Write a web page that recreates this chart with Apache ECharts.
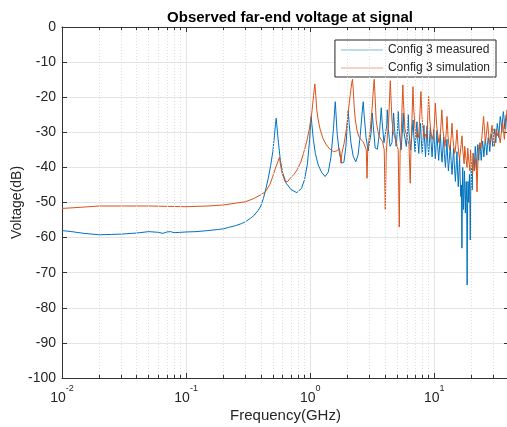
<!DOCTYPE html>
<html>
<head>
<meta charset="utf-8">
<script src="https://cdn.jsdelivr.net/npm/echarts@6/dist/echarts.min.js"></script>
<style>
html,body{margin:0;padding:0;background:#fff;}
#chart{width:507px;height:427px;}
</style>
</head>
<body>
<div id="chart"></div>
<script>
// ---- Data: [frequency GHz, voltage dB] ----
const seriesNames = ['Config 3 measured', 'Config 3 simulation'];

const measured = [
  [0.010,-58.0],[0.012,-58.3],[0.015,-58.8],[0.020,-59.2],[0.025,-59.1],[0.030,-59.0],
  [0.040,-58.7],[0.050,-58.3],[0.060,-58.5],[0.065,-58.8],[0.070,-58.4],[0.075,-58.3],
  [0.080,-58.6],[0.090,-58.5],[0.100,-58.4],[0.120,-58.3],[0.150,-58.0],[0.180,-57.7],
  [0.200,-57.5],[0.220,-57.1],[0.250,-56.6],[0.280,-56.0],[0.300,-55.5],[0.330,-54.5],
  [0.350,-53.8],[0.380,-52.3],[0.400,-51.0],[0.420,-48.8],[0.440,-46.0],[0.460,-43.0],
  [0.480,-39.5],[0.500,-35.5],[0.515,-31.0],[0.525,-27.8],[0.532,-26.0],[0.540,-28.5],
  [0.555,-33.0],[0.575,-38.0],[0.600,-41.5],[0.640,-44.5],[0.700,-46.3],[0.780,-47.2],
  [0.850,-46.0],[0.900,-43.5],[0.950,-39.0],[0.990,-32.0],[1.010,-27.0],[1.019,-25.5],
  [1.030,-27.5],[1.060,-32.0],[1.100,-36.0],[1.160,-39.3],[1.240,-41.5],[1.320,-42.6],
  [1.400,-41.3],[1.470,-37.0],[1.540,-29.0],[1.575,-23.5],[1.592,-21.3],[1.610,-24.0],
  [1.650,-30.5],[1.720,-36.0],[1.800,-38.8],[1.870,-38.5],[1.940,-34.0],[1.990,-28.0],
  [2.024,-23.8],[2.060,-27.5],[2.130,-33.0],[2.220,-36.8],[2.330,-38.4],[2.430,-36.5],
  [2.530,-31.0],[2.620,-24.5],[2.675,-21.3],[2.720,-25.0],[2.820,-31.5],[2.930,-35.3],
  [3.020,-35.5],[3.100,-30.0],[3.162,-24.5],[3.220,-28.0],[3.340,-34.5],[3.480,-34.8],
  [3.620,-30.0],[3.738,-23.0],[3.800,-27.0],[3.930,-33.0],[4.060,-33.5],[4.140,-28.0],
  [4.180,-23.6],[4.260,-29.0],[4.400,-34.0],[4.560,-33.0],[4.660,-27.0],[4.700,-24.5],
  [4.780,-29.0],[4.930,-34.0],[5.060,-29.0],[5.124,-24.1],[5.200,-29.0],[5.400,-35.0],
  [5.550,-29.0],[5.623,-24.5],[5.700,-30.0],[5.950,-34.0],[6.100,-29.5],[6.171,-25.0],
  [6.250,-30.0],[6.450,-35.0],[6.680,-28.5],[6.750,-26.5],[6.840,-31.0],[7.000,-35.5],
  [7.180,-28.5],[7.250,-27.0],[7.340,-31.5],[7.500,-36.0],[7.680,-29.0],[7.750,-27.4],
  [7.850,-32.0],[8.000,-36.0],[8.180,-30.0],[8.250,-28.0],[8.360,-32.5],[8.500,-37.0],
  [8.680,-30.0],[8.750,-28.2],[8.860,-33.0],[9.000,-36.5],[9.220,-30.5],[9.300,-28.5],
  [9.420,-33.0],[9.600,-37.0],[9.820,-31.0],[9.900,-29.3],[10.03,-33.5],[10.20,-37.5],
  [10.42,-31.5],[10.50,-29.5],[10.65,-34.0],[10.85,-38.0],[11.10,-32.5],[11.20,-30.5],
  [11.35,-35.0],[11.55,-38.5],[11.80,-33.0],[11.90,-31.3],[12.05,-36.0],[12.30,-40.0],
  [12.55,-34.0],[12.65,-32.0],[12.80,-37.0],[13.00,-41.0],[13.35,-35.5],[13.46,-33.5],
  [13.65,-38.0],[13.90,-42.0],[14.20,-36.5],[14.31,-34.5],[14.50,-39.0],[14.80,-44.0],
  [15.10,-38.0],[15.24,-35.5],[15.40,-41.0],[15.60,-45.5],[15.85,-40.0],[16.00,-37.0],
  [16.15,-43.0],[16.35,-48.3],[16.55,-45.0],[16.70,-63.0],[16.85,-46.0],[16.95,-40.0],
  [17.05,-45.0],[17.20,-52.0],[17.35,-46.0],[17.50,-41.0],[17.65,-47.0],[17.80,-53.0],
  [17.95,-47.0],[18.10,-44.0],[18.25,-50.0],[18.40,-73.5],[18.55,-50.0],[18.70,-44.0],
  [18.85,-47.0],[18.95,-50.0],[19.05,-46.0],[19.20,-42.0],[19.35,-49.0],[19.50,-60.7],
  [19.65,-48.0],[19.85,-40.0],[20.00,-43.0],[20.20,-46.4],[20.40,-40.0],[20.60,-36.0],
  [20.80,-38.0],[21.00,-41.0],[21.20,-37.0],[21.40,-34.0],[21.65,-37.5],[21.90,-40.7],
  [22.15,-36.0],[22.40,-33.5],[22.60,-35.5],[22.80,-38.0],[23.05,-35.0],[23.30,-33.0],
  [23.60,-35.5],[23.90,-38.0],[24.20,-35.0],[24.50,-32.5],[24.80,-34.5],[25.10,-37.0],
  [25.45,-34.0],[25.80,-32.0],[26.15,-34.0],[26.50,-36.5],[26.85,-33.5],[27.20,-31.5],
  [27.60,-33.0],[28.00,-35.5],[28.40,-32.5],[28.80,-30.5],[29.20,-32.0],[29.60,-34.0],
  [30.00,-31.0],[30.40,-29.0],[30.85,-31.0],[31.30,-33.0],[31.75,-30.0],[32.20,-27.5],
  [32.65,-29.0],[33.10,-31.5],[33.55,-28.0],[34.00,-25.5],[34.50,-27.0],[35.00,-30.0],
  [35.50,-26.5],[36.00,-24.1],[36.50,-26.0],[37.00,-29.0],[37.50,-26.5],[38.00,-25.0],
  [38.50,-27.0],[39.00,-30.5],[39.50,-28.0],[40.00,-27.0]
];

const simulated = [
  [0.010,-51.7],[0.015,-51.3],[0.020,-51.0],[0.030,-51.0],[0.050,-51.0],[0.070,-51.1],
  [0.100,-51.2],[0.150,-51.0],[0.200,-50.7],[0.250,-50.2],[0.300,-49.8],[0.350,-48.9],
  [0.395,-47.9],[0.434,-47.0],[0.475,-44.8],[0.500,-42.5],[0.525,-40.2],[0.550,-38.3],
  [0.565,-37.1],[0.575,-39.0],[0.594,-41.7],[0.628,-44.1],[0.660,-44.0],[0.690,-43.1],
  [0.740,-42.0],[0.785,-40.7],[0.840,-38.5],[0.883,-36.0],[0.940,-32.5],[0.982,-29.3],
  [1.030,-24.5],[1.065,-19.5],[1.090,-16.2],[1.110,-19.5],[1.130,-23.6],[1.160,-26.5],
  [1.205,-29.3],[1.270,-31.8],[1.350,-33.6],[1.440,-34.8],[1.540,-35.5],[1.640,-35.3],
  [1.720,-34.6],[1.745,-36.0],[1.770,-38.8],[1.800,-36.0],[1.880,-33.0],[1.960,-29.0],
  [2.020,-24.6],[2.100,-19.5],[2.160,-16.0],[2.190,-14.9],[2.220,-17.5],[2.260,-22.5],
  [2.310,-26.5],[2.380,-29.3],[2.460,-31.2],[2.560,-32.0],[2.670,-32.7],[2.780,-34.2],
  [2.830,-35.0],[2.870,-43.1],[2.910,-35.0],[2.980,-32.0],[3.050,-29.3],[3.150,-23.5],
  [3.240,-17.0],[3.280,-14.9],[3.320,-18.5],[3.400,-26.5],[3.500,-29.5],[3.600,-31.2],
  [3.720,-32.0],[3.830,-32.7],[3.950,-35.0],[4.030,-52.0],[4.100,-36.0],[4.190,-31.0],
  [4.270,-28.0],[4.360,-20.5],[4.420,-15.3],[4.470,-19.5],[4.560,-26.5],[4.670,-30.0],
  [4.820,-31.5],[4.980,-32.0],[5.120,-35.0],[5.220,-57.0],[5.300,-36.0],[5.420,-30.0],
  [5.510,-22.0],[5.580,-16.5],[5.640,-21.0],[5.800,-29.0],[6.050,-31.5],[6.250,-33.5],
  [6.400,-44.5],[6.500,-33.5],[6.600,-27.0],[6.730,-17.0],[6.820,-23.0],[7.000,-29.0],
  [7.150,-31.5],[7.300,-30.0],[7.450,-31.5],[7.600,-27.5],[7.800,-18.4],[7.950,-25.0],
  [8.100,-29.0],[8.300,-31.5],[8.500,-30.5],[8.650,-32.0],[8.800,-28.5],[9.000,-19.8],
  [9.200,-26.5],[9.400,-30.0],[9.600,-32.0],[9.800,-31.0],[10.00,-28.0],[10.20,-21.7],
  [10.45,-28.0],[10.70,-31.0],[10.90,-33.0],[11.10,-31.5],[11.30,-28.5],[11.50,-23.6],
  [11.75,-29.5],[12.00,-32.0],[12.20,-34.0],[12.35,-32.0],[12.50,-29.5],[12.66,-25.5],
  [12.90,-31.0],[13.10,-33.5],[13.30,-35.0],[13.50,-33.5],[13.70,-31.0],[13.89,-27.4],
  [14.15,-32.0],[14.40,-34.5],[14.60,-36.0],[14.80,-35.0],[15.00,-32.5],[15.24,-29.3],
  [15.50,-33.5],[15.70,-35.5],[15.95,-37.5],[16.20,-36.0],[16.45,-33.5],[16.73,-31.0],
  [16.95,-35.0],[17.20,-37.0],[17.40,-39.0],[17.60,-34.0],[17.85,-36.5],[18.10,-38.0],
  [18.35,-40.0],[18.60,-34.5],[18.85,-37.0],[19.10,-39.0],[19.35,-41.0],[19.60,-35.0],
  [19.85,-38.0],[20.10,-40.0],[20.35,-42.0],[20.60,-36.0],[20.85,-38.5],[21.10,-41.0],
  [21.35,-39.0],[21.60,-37.5],[21.85,-41.0],[22.10,-47.0],[22.35,-41.0],[22.60,-36.0],
  [22.95,-34.0],[23.30,-33.0],[23.75,-34.5],[24.25,-31.0],[24.60,-28.0],[24.98,-25.5],
  [25.40,-29.5],[25.80,-33.0],[26.30,-30.5],[26.90,-27.0],[27.40,-30.5],[27.90,-33.5],
  [28.50,-31.0],[29.20,-28.0],[29.80,-31.0],[30.50,-34.0],[31.00,-31.5],[31.50,-29.0],
  [32.10,-31.0],[32.80,-30.0],[33.40,-31.5],[34.00,-33.0],[34.70,-30.0],[35.50,-27.0],
  [36.10,-29.5],[36.70,-32.0],[37.60,-27.5],[38.60,-23.6],[39.30,-26.0],[40.00,-27.0]
];

const xMin = 0.01, xMax = 40;
const yMin = -100, yMax = 0, yStep = 10;
const decades = [0.01, 0.1, 1, 10];
const minorMult = [2, 3, 4, 5, 6, 7, 8, 9];

// ---- Build options ----
const minorX = [];
decades.forEach(d => minorMult.forEach(m => { const v = d * m; if (v <= xMax) minorX.push(+v.toPrecision(6)); }));

const FONT = "'Liberation Sans', Arial, Helvetica, sans-serif";
const TXT = '#262626';
const AXC = '#333333';

function xLabel(v) {
  const e = Math.round(Math.log10(v));
  if (Math.abs(v - Math.pow(10, e)) > 1e-6 * v) return '';
  return '{b|10}{s|' + e + '}';
}

const minorGridLines = minorX.map(v => ({ xAxis: v }));
const minorTickLines = [];
minorX.forEach(v => {
  minorTickLines.push([{ coord: [v, yMin] }, { coord: [v, yMin + 0.9] }]);
  minorTickLines.push([{ coord: [v, yMax] }, { coord: [v, yMax - 0.9] }]);
});

const chart = echarts.init(document.getElementById('chart'), null, { renderer: 'canvas' });
chart.setOption({
  animation: false,
  backgroundColor: '#ffffff',
  textStyle: { fontFamily: FONT },
  title: {
    text: 'Observed far-end voltage at signal',
    left: 285, top: 5, textAlign: 'center',
    textStyle: { fontFamily: FONT, fontSize: 15, fontWeight: 'bold', color: '#000' }
  },
  grid: { left: 62, top: 27, width: 447, height: 351, containLabel: false, outerBoundsMode: 'none' },
  legend: {
    data: seriesNames,
    orient: 'vertical',
    right: 11, top: 40,
    icon: 'path://M0,0 L100,0 L100,1 L0,1 Z',
    itemWidth: 42, itemHeight: 1.3, itemGap: 6,
    padding: [4, 6, 3, 6],
    backgroundColor: '#ffffff',
    borderColor: '#262626', borderWidth: 1,
    textStyle: { fontFamily: FONT, fontSize: 12, color: TXT }
  },
  xAxis: [{
    type: 'log', logBase: 10, min: xMin, max: xMax,
    name: 'Frequency(GHz)', nameLocation: 'middle', nameGap: 30, nameMoveOverlap: false,
    nameTextStyle: { fontFamily: FONT, fontSize: 15, color: TXT },
    axisLine: { show: true, onZero: false, lineStyle: { color: AXC, width: 1 } },
    axisTick: { show: true, inside: true, length: 5, lineStyle: { color: AXC } },
    axisLabel: {
      formatter: xLabel, margin: 6, showMaxLabel: false,
      rich: {
        b: { fontFamily: FONT, fontSize: 14, color: TXT, verticalAlign: 'bottom', lineHeight: 21 },
        s: { fontFamily: FONT, fontSize: 9, color: TXT, verticalAlign: 'top', lineHeight: 21 }
      }
    },
    splitLine: { show: true, lineStyle: { color: '#e4e4e4', width: 1 } },
    minorTick: { show: false }
  }, {
    type: 'log', logBase: 10, min: xMin, max: xMax, position: 'top',
    axisLine: { show: true, onZero: false, lineStyle: { color: AXC, width: 1 } },
    axisTick: { show: true, inside: true, length: 5, lineStyle: { color: AXC } },
    axisLabel: { show: false },
    splitLine: { show: false }
  }],
  yAxis: [{
    type: 'value', min: yMin, max: yMax, interval: yStep,
    name: 'Voltage(dB)', nameLocation: 'middle', nameGap: 38, nameMoveOverlap: false,
    nameTextStyle: { fontFamily: FONT, fontSize: 14, color: TXT },
    axisLine: { show: true, onZero: false, lineStyle: { color: AXC, width: 1 } },
    axisTick: { show: true, inside: true, length: 5, lineStyle: { color: AXC } },
    axisLabel: { fontFamily: FONT, fontSize: 14, color: TXT, margin: 6 },
    splitLine: { show: true, lineStyle: { color: '#e4e4e4', width: 1 } }
  }, {
    type: 'value', min: yMin, max: yMax, interval: yStep, position: 'right',
    axisLine: { show: true, onZero: false, lineStyle: { color: AXC, width: 1 } },
    axisTick: { show: true, inside: true, length: 5, lineStyle: { color: AXC } },
    axisLabel: { show: false },
    splitLine: { show: false }
  }],
  series: [
    {
      name: '__minor', type: 'line', data: [], z: 1, silent: true,
      markLine: {
        silent: true, symbol: ['none', 'none'], animation: false,
        label: { show: false },
        lineStyle: { type: [1, 2], color: '#dcdcdc', width: 1 },
        emphasis: { disabled: true },
        data: minorGridLines
      }
    },
    {
      name: '__minorTicks', type: 'line', data: [], z: 1, silent: true,
      markLine: {
        silent: true, symbol: ['none', 'none'], animation: false,
        label: { show: false },
        lineStyle: { type: 'solid', color: AXC, width: 1 },
        emphasis: { disabled: true },
        data: minorTickLines
      }
    },
    {
      name: seriesNames[0], type: 'line', data: measured,
      symbol: 'none', showSymbol: false, clip: true, z: 3,
      lineStyle: { color: '#0072BD', width: 1 }, itemStyle: { color: '#0072BD' }
    },
    {
      name: seriesNames[1], type: 'line', data: simulated,
      symbol: 'none', showSymbol: false, clip: true, z: 4,
      lineStyle: { color: '#D95319', width: 1 }, itemStyle: { color: '#D95319' }
    }
  ]
});
</script>
</body>
</html>
